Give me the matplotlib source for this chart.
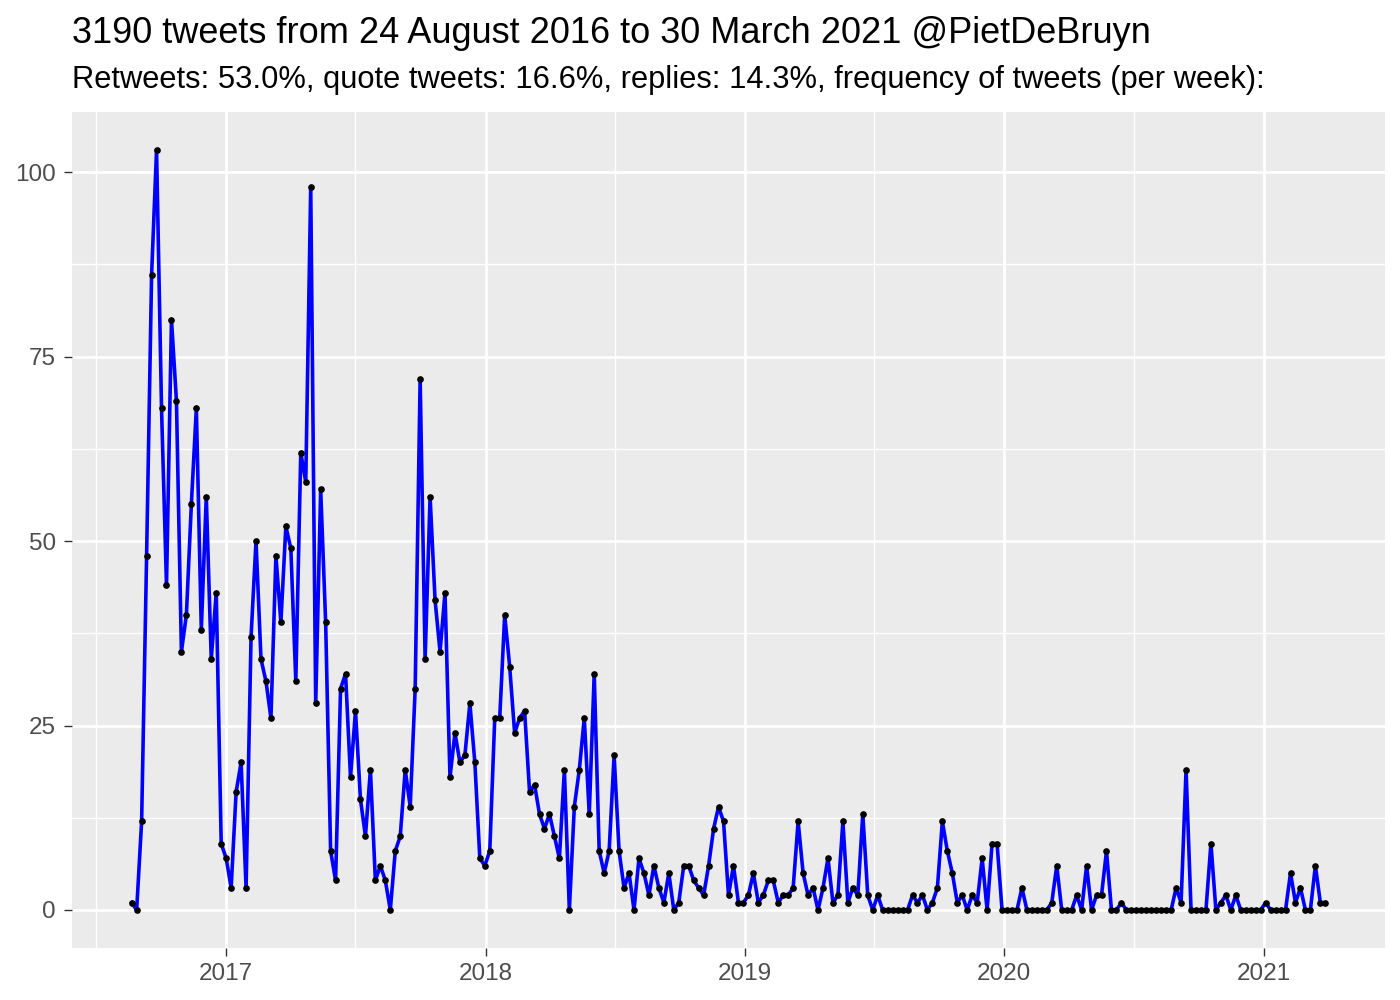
import matplotlib
matplotlib.use("Agg")
import matplotlib.pyplot as plt
import matplotlib.dates as mdates
import pandas as pd
import numpy as np

title = "3190 tweets from 24 August 2016 to 30 March 2021 @PietDeBruyn"
subtitle = "Retweets: 53.0%, quote tweets: 16.6%, replies: 14.3%, frequency of tweets (per week):"

start_week = "2016-08-21"
weekly_counts = [
    1, 0, 12, 48, 86, 103, 68, 44, 80, 69, 35, 40, 55, 68, 38, 56, 34, 43,
    9, 7, 3, 16, 20, 3, 37, 50, 34, 31, 26, 48, 39, 52, 49, 31, 62, 58,
    98, 28, 57, 39, 8, 4, 30, 32, 18, 27, 15, 10, 19, 4, 6, 4, 0, 8,
    10, 19, 14, 30, 72, 34, 56, 42, 35, 43, 18, 24, 20, 21, 28, 20, 7, 6,
    8, 26, 26, 40, 33, 24, 26, 27, 16, 17, 13, 11, 13, 10, 7, 19, 0, 14,
    19, 26, 13, 32, 8, 5, 8, 21, 8, 3, 5, 0, 7, 5, 2, 6, 3, 1,
    5, 0, 1, 6, 6, 4, 3, 2, 6, 11, 14, 12, 2, 6, 1, 1, 2, 5,
    1, 2, 4, 4, 1, 2, 2, 3, 12, 5, 2, 3, 0, 3, 7, 1, 2, 12,
    1, 3, 2, 13, 2, 0, 2,
    0, 0, 0, 0, 0, 0,
    2, 1, 2, 0, 1, 3, 12, 8, 5, 1, 2, 0, 2, 1, 7, 0, 9, 9, 0, 0,
    0, 0, 3, 0, 0, 0, 0, 0,
    1, 6, 0, 0, 0, 2, 0, 6, 0, 2, 2, 8, 0, 0, 1,
    0, 0, 0, 0, 0, 0, 0, 0, 0, 0,
    3, 1, 19, 0, 0, 0, 0,
    9, 0, 1, 2, 0, 2, 0, 0, 0, 0, 0,
    1, 0, 0, 0, 0,
    5, 1, 3, 0, 0, 6, 1, 1,
]
y_breaks = [0, 25, 50, 75, 100]
year_ticks = ["2017", "2018", "2019", "2020", "2021"]

dates = pd.date_range(start=start_week, periods=len(weekly_counts), freq="7D")
xd = mdates.date2num(dates)
yv = np.array(weekly_counts, dtype=float)

plt.rcParams['font.family'] = ['Liberation Sans', 'DejaVu Sans']

fig = plt.figure(figsize=(14, 10), dpi=100)
ax = fig.add_axes([72/1400, 1-948/1000, (1385-72)/1400, (948-112)/1000])
ax.set_facecolor("#EBEBEB")

# expansions like ggplot (5%)
xr = xd.max() - xd.min()
ax.set_xlim(xd.min() - 0.05*xr, xd.max() + 0.05*xr)
yr = yv.max() - yv.min()
ax.set_ylim(yv.min() - 0.05*yr, yv.max() + 0.05*yr)

major_x = mdates.date2num(pd.to_datetime([f"{y}-01-01" for y in year_ticks]))
minor_x = mdates.date2num(pd.to_datetime(["2016-07-02", "2017-07-02", "2018-07-02",
                                          "2019-07-02", "2020-07-02"]))
ax.set_xticks(major_x)
ax.set_xticklabels(year_ticks)
ax.set_xticks(minor_x, minor=True)
ax.set_yticks(y_breaks)
ax.set_yticklabels([str(b) for b in y_breaks])
ax.set_yticks([12.5, 37.5, 62.5, 87.5], minor=True)

ax.grid(which="major", color="white", linewidth=2.0)
ax.grid(which="minor", color="white", linewidth=1.0)
ax.set_axisbelow(True)
for s in ax.spines.values():
    s.set_visible(False)

ax.tick_params(which="major", length=5.5, width=1.0, color="#333333",
               labelsize=17.5, labelcolor="#4D4D4D")
ax.tick_params(axis="y", which="major", pad=6)
ax.tick_params(axis="x", which="major", pad=5)
ax.tick_params(which="minor", length=0)

ax.plot(xd, yv, color="#0000FF", linewidth=2.6, zorder=3)
ax.plot(xd, yv, linestyle="none", marker="o", markersize=3.8,
        markerfacecolor="black", markeredgecolor="black", zorder=4)

fig.text(72/1400, 1-43/1000, title, fontsize=26, color="black", va="baseline", ha="left")
fig.text(72/1400, 1-88/1000, subtitle, fontsize=22.2, color="black", va="baseline", ha="left")

fig.savefig("out.png", dpi=100)
